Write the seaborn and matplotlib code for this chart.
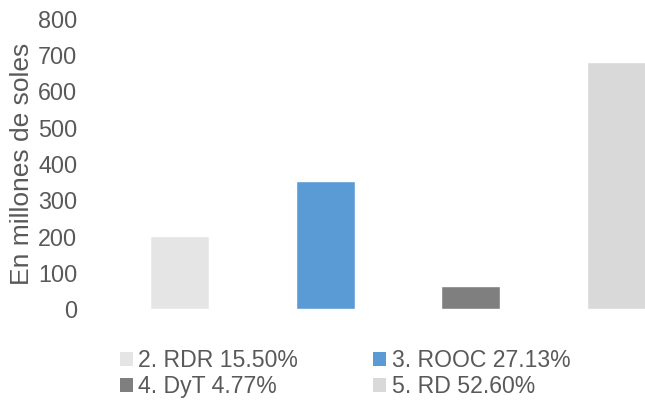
import matplotlib
matplotlib.use("Agg")
import matplotlib.pyplot as plt
import seaborn as sns
import pandas as pd
from matplotlib.patches import Patch

categories = ["2. RDR 15.50%", "3. ROOC 27.13%", "4. DyT 4.77%", "5. RD 52.60%"]
values = [201, 353, 63, 681]
colors = ["#E5E5E5", "#5B9BD5", "#7F7F7F", "#D9D9D9"]
yticks = [0, 100, 200, 300, 400, 500, 600, 700, 800]
ylabel = "En millones de soles"

sns.set_style("white")
plt.rcParams["font.family"] = ["Liberation Sans", "DejaVu Sans"]

df = pd.DataFrame({"cat": categories, "val": values})

fig = plt.figure(figsize=(6.45, 4.0), dpi=100)
ax = fig.add_axes([0.165, 0.2275, 0.904, 0.725])
sns.barplot(data=df, x="cat", y="val", hue="cat", palette=colors,
            dodge=False, width=0.405, ax=ax, legend=False, saturation=1)

ax.set_xlim(-0.5, 3.5)
ax.set_ylim(0, 800)
ax.set_yticks(yticks)
ax.set_yticklabels([str(t) for t in yticks])
ax.set_xticks([])
ax.set_xlabel("")
ax.set_ylabel(ylabel, fontsize=19, color="#595959", labelpad=3)
ax.tick_params(axis="y", length=0, labelsize=16.8, labelcolor="#595959", pad=21)
for s in ax.spines.values():
    s.set_visible(False)

handles = [Patch(facecolor=c, edgecolor="none") for c in colors]
order = [0, 2, 1, 3]
leg = fig.legend([handles[i] for i in order], [categories[i] for i in order],
                 ncol=2, loc="upper left", bbox_to_anchor=(0.186, 0.128),
                 frameon=False, fontsize=16.6, handlelength=0.55, handleheight=0.55,
                 handletextpad=0.25, columnspacing=3.25, labelspacing=0.14,
                 borderaxespad=0, borderpad=0)
for t in leg.get_texts():
    t.set_color("#595959")

fig.savefig("out.png", dpi=100)
